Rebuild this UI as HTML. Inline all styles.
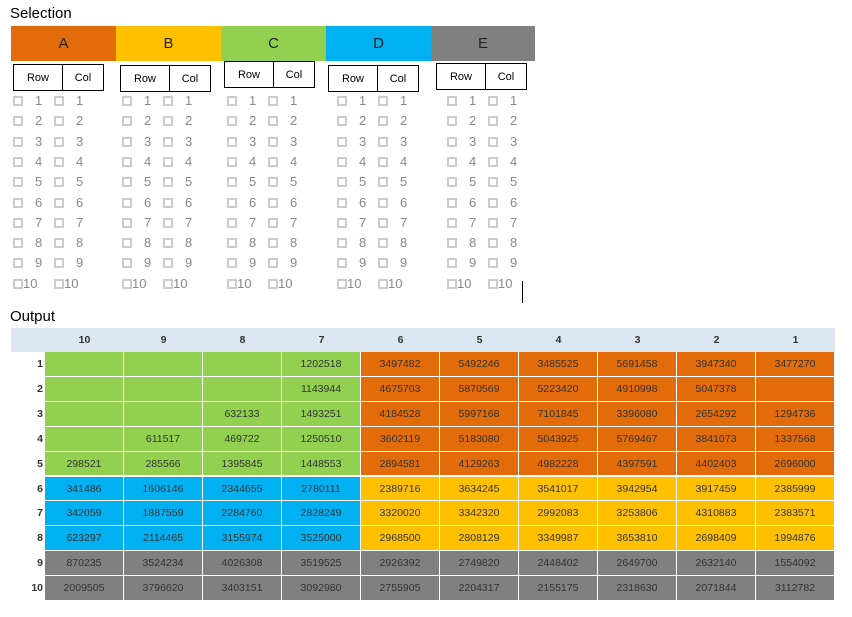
<!DOCTYPE html>
<html><head><meta charset="utf-8">
<style>
body{margin:0;width:852px;height:617px;background:#fff;position:relative;overflow:hidden;font-family:"Liberation Sans",sans-serif;}
.abs{position:absolute;}
.title{font-size:15px;color:#000;}
.hdr{position:absolute;top:26px;height:35px;font-size:15px;line-height:35px;text-align:center;color:#222;}
.btn{position:absolute;height:27px;border:1px solid #000;background:#fff;font-size:11px;line-height:27px;text-align:center;box-sizing:border-box;}
.cb{position:absolute;width:10px;height:10px;border:2px solid #ccc;box-sizing:border-box;}
.num{position:absolute;font-size:13px;color:#888;line-height:14px;}
.cell{position:absolute;box-sizing:border-box;border-right:1px solid #fff;border-bottom:1px solid #fff;font-size:10.5px;text-align:center;color:#333;}
.th{position:absolute;font-size:10.5px;font-weight:bold;text-align:center;color:#333;}
</style></head><body>
<div class="abs title" style="left:10px;top:5px">Selection</div>
<div class="abs title" style="left:10px;top:308px">Output</div>
<div id="sel"></div>
<div id="tbl"></div>
<div class="abs" style="left:522px;top:281px;width:1px;height:22px;background:#000"></div>
<script>
const groups=['A','B','C','D','E'];
const groupColors=['#E26B0A','#FFC000','#92D050','#00B0F0','#808080'];
const hdrX=[11,116,221,326,431];
const btnPos=[[13,64],[120,65],[224,61],[328,65],[436,63]];
const cbX=[13,122,227,337,447];
const sel=document.getElementById('sel');
groups.forEach((g,i)=>{
  const h=document.createElement('div');h.className='hdr';
  h.style.left=hdrX[i]+'px';h.style.width=(i==4?104:105)+'px';h.style.background=groupColors[i];h.textContent=g;
  
  
  sel.appendChild(h);
  const [bx,by]=btnPos[i];
  const r=document.createElement('div');r.className='btn';r.style.left=bx+'px';r.style.top=by+'px';r.style.width='50px';r.textContent='Row';
  
  
  sel.appendChild(r);
  const c=document.createElement('div');c.className='btn';c.style.left=(bx+49)+'px';c.style.top=by+'px';c.style.width='42px';c.textContent='Col';
  
  
  sel.appendChild(c);
  for(let k=1;k<=10;k++){
    const y=96+(k-1)*20.3;
    [[0,'row'],[41,'col']].forEach(([dx,t])=>{
      const b=document.createElement('div');b.className='cb';b.style.left=(cbX[i]+dx)+'px';b.style.top=y+'px';
      
      
      sel.appendChild(b);
      const n=document.createElement('div');n.className='num';n.style.left=(cbX[i]+dx+(k==10?10:22))+'px';n.style.top=(y-2)+'px';n.textContent=k;
      
      
      sel.appendChild(n);
    });
  }
});
const colHeaders=[10,9,8,7,6,5,4,3,2,1];
const rowHeaders=[1,2,3,4,5,6,7,8,9,10];
const values=[
['','','','1202518','3497482','5492246','3485525','5691458','3947340','3477270'],
['','','','1143944','4675703','5870569','5223420','4910998','5047378',''],
['','','632133','1493251','4184528','5997168','7101845','3396080','2654292','1294736'],
['','611517','469722','1250510','3602119','5183080','5043925','5769467','3841073','1337568'],
['298521','285566','1395845','1448553','2894581','4129263','4982228','4397591','4402403','2696000'],
['341486','1606146','2344655','2780111','2389716','3634245','3541017','3942954','3917459','2385999'],
['342059','1887559','2284760','2828249','3320020','3342320','2992083','3253806','4310883','2383571'],
['623297','2114465','3155974','3525000','2968500','2808129','3349987','3653810','2698409','1994876'],
['870235','3524234','4026308','3519525','2926392','2749820','2448402','2649700','2632140','1554092'],
['2009505','3796620','3403151','3092980','2755905','2204317','2155175','2318630','2071844','3112782']];
const tbl=document.getElementById('tbl');
const X0=45,CW=79,Y0=352,RH=24.9;
const band=document.createElement('div');band.className='abs';
band.style.cssText='left:11px;top:328px;width:824px;height:24px;background:#DCE6F1';


tbl.appendChild(band);
colHeaders.forEach((c,j)=>{
  const d=document.createElement('div');d.className='th';
  d.style.cssText+=`left:${X0+j*CW}px;top:328px;width:${CW}px;height:24px;line-height:24px;`;d.textContent=c;
  
  
  tbl.appendChild(d);
});
function color(r,j){if(r>=8)return '#808080';if(r<5)return j<4?'#92D050':'#E26B0A';return j<4?'#00B0F0':'#FFC000';}
rowHeaders.forEach((rh,r)=>{
  const y=Y0+r*RH;
  const l=document.createElement('div');l.className='th';
  l.style.cssText+=`left:11px;top:${y}px;width:32px;height:${RH}px;line-height:${RH}px;text-align:right;`;l.textContent=rh;
  
  
  tbl.appendChild(l);
  values[r].forEach((v,j)=>{
    const c=document.createElement('div');c.className='cell';
    c.style.cssText+=`left:${X0+j*CW}px;top:${y}px;width:${CW}px;height:${RH}px;line-height:${RH}px;background:${color(r,j)};`;
    c.textContent=v;
    
    
    tbl.appendChild(c);
  });
});
</script>
</body></html>
